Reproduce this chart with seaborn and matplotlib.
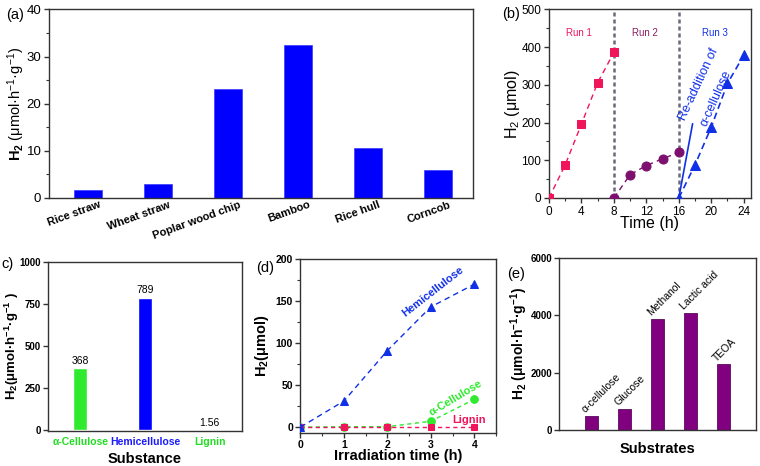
import numpy as np
import pandas as pd
import matplotlib
matplotlib.use("Agg")
import matplotlib.pyplot as plt
import seaborn as sns
from matplotlib.ticker import MultipleLocator

# ---------------- data ----------------
# (a) H2 evolution from raw biomass
biomass = ["Rice straw", "Wheat straw", "Poplar wood chip", "Bamboo", "Rice hull", "Corncob"]
biomass_h2 = [1.8, 2.9, 23.1, 32.4, 10.7, 6.0]

# (b) cycling runs
run1_t = [0, 2, 4, 6, 8]
run1_h2 = [0, 88, 196, 306, 386]
run2_t = [8, 10, 12, 14, 16]
run2_h2 = [0, 62, 86, 104, 121]
run3_t = [16, 18, 20, 22, 24]
run3_h2 = [0, 88, 188, 304, 378]
run_bounds = [8, 16]
readd_x = [16, 17.7]
readd_y = [0, 197]

# (c) components
substances = ["α-Cellulose", "Hemicellulose", "Lignin"]
substance_h2 = [368, 789, 1.56]
substance_labels = ["368", "789", "1.56"]

# (d) time course of components
irr_t = [0, 1, 2, 3, 4]
hemi_h2 = [0, 31, 91, 143, 170]
cell_h2 = [0, 0.5, 0.5, 7, 33]
lignin_h2 = [0, 0, 0, 0, 0]

# (e) substrates
substrates = ["α-cellulose", "Glucose", "Methanol", "Lactic acid", "TEOA"]
substrate_h2 = [490, 730, 3870, 4080, 2290]

# ---------------- style ----------------
sns.set_theme(style="ticks")
plt.rcParams.update({
    "font.family": ["Liberation Sans", "DejaVu Sans"],
    "mathtext.fontset": "custom",
    "mathtext.rm": "Liberation Sans",
    "mathtext.it": "Liberation Sans:italic",
    "mathtext.bf": "Liberation Sans:bold",
    "axes.edgecolor": "#333333",
    "axes.linewidth": 1.0,
    "xtick.color": "#333333", "ytick.color": "#333333",
    "xtick.labelcolor": "black", "ytick.labelcolor": "black",
    "xtick.direction": "out", "ytick.direction": "out",
    "xtick.major.size": 3.5, "ytick.major.size": 3.5,
    "xtick.minor.size": 2, "ytick.minor.size": 2,
    "xtick.major.width": 1, "ytick.major.width": 1,
    "xtick.minor.width": 0.8, "ytick.minor.width": 0.8,
    "xtick.major.pad": 1.5, "ytick.major.pad": 1.5,
    "text.color": "black", "axes.labelcolor": "black",
})

W, H = 760, 466
fig = plt.figure(figsize=(W / 100, H / 100), dpi=100)


def add_ax(l, r, t, b):
    return fig.add_axes([l / W, 1 - b / H, (r - l) / W, (b - t) / H])


def full_box(ax):
    for s in ax.spines.values():
        s.set_visible(True)


def ylab_pos(ax, px_x, l, r):
    ax.yaxis.label.set_verticalalignment("center")
    ax.yaxis.set_label_coords((px_x - l) / (r - l), 0.5)


def xlab_pos(ax, px_y, t, b):
    ax.xaxis.label.set_verticalalignment("center")
    ax.xaxis.set_label_coords(0.5, (b - px_y) / (b - t))


pink = "#f0145a"
purple_pt = "#7d0f6e"
blue = "#1030e8"
green = "#2fea2f"
green_txt = "#22dd22"

# ---------------- (a) ----------------
la, ra, ta, ba = 49, 473, 9.5, 198
axa = add_ax(la, ra, ta, ba)
dfa = pd.DataFrame({"biomass": biomass, "h2": biomass_h2})
sns.barplot(data=dfa, x="biomass", y="h2", color="#0000ff", width=0.4,
            saturation=1, edgecolor="#3a3aff", linewidth=0.5, ax=axa)
full_box(axa)
axa.set_xlim(-0.56, 5.5)
axa.set_ylim(0, 40)
axa.yaxis.set_major_locator(MultipleLocator(10))
axa.yaxis.set_minor_locator(MultipleLocator(5))
axa.tick_params(axis="x", length=0, labelbottom=False)
axa.tick_params(axis="y", labelsize=9.5, pad=2)
axa.set_xlabel("")
for i, name in enumerate(biomass):
    axa.annotate(name, xy=(i, 0), xycoords=("data", "axes fraction"),
                 xytext=(13, -9), textcoords="offset pixels",
                 rotation=20, rotation_mode="anchor", ha="right", va="baseline",
                 fontsize=8, fontweight="bold")
axa.set_ylabel(r"$\mathbf{H_2}$ (μmol·h$^{-1}$·g$^{-1}$)", fontsize=10.5)
ylab_pos(axa, 16, la, ra)
fig.text(15 / W, 1 - 15 / H, "(a)", fontsize=10.5, ha="center", va="center")

# ---------------- (b) ----------------
lb, rb, tb, bb = 549, 751, 9.5, 198
axb = add_ax(lb, rb, tb, bb)
for xv in run_bounds:
    axb.axvline(xv, color="#6b6b78", lw=1.8, ls=(0, (1.6, 1.2)), zorder=1)
sns.lineplot(x=run1_t, y=run1_h2, ax=axb, color=pink, marker="s", markersize=6,
             markeredgecolor=pink, ls=(0, (4, 3)), lw=1, zorder=3)
sns.lineplot(x=run2_t, y=run2_h2, ax=axb, color=purple_pt, marker="o", markersize=6.5,
             markeredgecolor=purple_pt, ls=(0, (4, 3)), lw=1, zorder=3)
sns.lineplot(x=run3_t, y=run3_h2, ax=axb, color=blue, marker="^", markersize=6.5,
             markeredgecolor=blue, ls=(0, (4, 2.5)), lw=1.2, zorder=3)
sns.lineplot(x=readd_x, y=readd_y, ax=axb, color=blue, lw=1.2, zorder=3)
full_box(axb)
axb.set_xlim(0, 24.9)
axb.set_ylim(0, 500)
axb.xaxis.set_major_locator(MultipleLocator(4))
axb.xaxis.set_minor_locator(MultipleLocator(2))
axb.yaxis.set_major_locator(MultipleLocator(100))
axb.yaxis.set_minor_locator(MultipleLocator(50))
axb.tick_params(labelsize=8.5, pad=2)
axb.set_xlabel("Time (h)", fontsize=11.5)
axb.set_ylabel(r"H$_2$ (μmol)", fontsize=11.5)
ylab_pos(axb, 513, lb, rb)
xlab_pos(axb, 224, tb, bb)
axb.text(3.7, 437, "Run 1", color=pink, fontsize=7, ha="center", va="center")
axb.text(11.8, 437, "Run 2", color="#8a1d60", fontsize=7, ha="center", va="center")
axb.text(20.4, 437, "Run 3", color=blue, fontsize=7, ha="center", va="center")
axb.text(18.5, 302, "Re-addition of", color=blue, fontsize=9, rotation=65,
         ha="center", va="center", rotation_mode="anchor")
axb.text(20.6, 265, "α-cellulose", color=blue, fontsize=9, rotation=66,
         ha="center", va="center", rotation_mode="anchor")
fig.text(511 / W, 1 - 14 / H, "(b)", fontsize=10.5, ha="center", va="center")

# ---------------- (c) ----------------
lc, rc, tc, bc = 48, 242, 262, 431
axc = add_ax(lc, rc, tc, bc)
dfc = pd.DataFrame({"substance": substances, "h2": substance_h2})
sns.barplot(data=dfc, x="substance", y="h2", hue="substance",
            palette=[green, "#0000ff", green], width=0.22, saturation=1,
            legend=False, ax=axc)
full_box(axc)
axc.set_xlim(-0.5, 2.5)
axc.set_ylim(-4, 1000)
axc.set_yticks([0, 250, 500, 750, 1000])
axc.tick_params(axis="x", length=0, labelsize=7.5, pad=4)
axc.tick_params(axis="y", labelsize=7)
for lab in axc.get_yticklabels():
    lab.set_fontweight("bold")
for lab, col in zip(axc.get_xticklabels(), [green_txt, "#1a1aff", green_txt]):
    lab.set_fontweight("bold")
    lab.set_color(col)
for i, (v, t) in enumerate(zip(substance_h2, substance_labels)):
    axc.text(i, v + 12, t, ha="center", va="bottom", fontsize=7.5)
axc.set_xlabel("Substance", fontsize=10.5, fontweight="bold")
axc.set_ylabel(r"$\mathbf{H_2}$(μmol·h$^{\mathbf{-1}}$·g$^{\mathbf{-1}}$ )",
               fontsize=9.5, fontweight="bold")
ylab_pos(axc, 12, lc, rc)
xlab_pos(axc, 459, tc, bc)
fig.text(1 / W, 1 - 264 / H, "c)", fontsize=10.5, ha="left", va="center")

# ---------------- (d) ----------------
ld, rd, td, bd = 300, 496, 259, 433
axd = add_ax(ld, rd, td, bd)
sns.lineplot(x=irr_t, y=cell_h2, ax=axd, color=green, marker="o", markersize=5.5,
             markeredgecolor=green, ls=(0, (3, 2.5)), lw=1, zorder=3)
sns.lineplot(x=irr_t, y=lignin_h2, ax=axd, color=pink, marker="s", markersize=5,
             markeredgecolor=pink, ls=(0, (3, 2.5)), lw=1, zorder=4)
sns.lineplot(x=irr_t, y=hemi_h2, ax=axd, color=blue, marker="^", markersize=6,
             markeredgecolor=blue, ls=(0, (4, 3)), lw=1, zorder=5)
full_box(axd)
axd.set_xlim(-0.01, 4.5)
axd.set_ylim(-7, 200)
axd.xaxis.set_major_locator(MultipleLocator(1))
axd.xaxis.set_minor_locator(MultipleLocator(0.5))
axd.yaxis.set_major_locator(MultipleLocator(50))
axd.yaxis.set_minor_locator(MultipleLocator(25))
axd.tick_params(labelsize=7.5)
for lab in axd.get_xticklabels() + axd.get_yticklabels():
    lab.set_fontweight("bold")
axd.text(3.04, 161, "Hemicellulose", color=blue, fontsize=8, fontweight="bold",
         rotation=38, ha="center", va="center", rotation_mode="anchor")
axd.text(3.57, 35, "α-Cellulose", color=green, fontsize=8, fontweight="bold",
         rotation=31, ha="center", va="center", rotation_mode="anchor")
axd.text(3.87, 9, "Lignin", color=pink, fontsize=8, fontweight="bold",
         ha="center", va="center")
axd.set_xlabel("Irradiation time (h)", fontsize=10.5, fontweight="bold")
axd.set_ylabel(r"$\mathbf{H_2}$(μmol)", fontsize=10.5, fontweight="bold")
ylab_pos(axd, 262, ld, rd)
xlab_pos(axd, 456, td, bd)
fig.text(265 / W, 1 - 268 / H, "(d)", fontsize=10.5, ha="center", va="center")

# ---------------- (e) ----------------
le, re, te, be = 559, 756, 258, 430
axe = add_ax(le, re, te, be)
dfe = pd.DataFrame({"substrate": substrates, "h2": substrate_h2})
sns.barplot(data=dfe, x="substrate", y="h2", color="#800080", width=0.4,
            saturation=1, edgecolor="#5a0a5a", linewidth=0.6, ax=axe)
full_box(axe)
axe.set_xlim(-1, 5)
axe.set_ylim(0, 6000)
axe.set_yticks([0, 2000, 4000, 6000])
axe.tick_params(axis="x", length=0, labelbottom=False)
axe.tick_params(axis="y", labelsize=7)
for lab in axe.get_yticklabels():
    lab.set_fontweight("bold")
for i, (name, v) in enumerate(zip(substrates, substrate_h2)):
    axe.text(i - 0.2, v + 90, name, rotation=45, rotation_mode="anchor",
             ha="left", va="baseline", fontsize=7.5)
axe.set_xlabel("Substrates", fontsize=10.5, fontweight="bold")
axe.set_ylabel(r"$\mathbf{H_2}$ (μmol·h$^{\mathbf{-1}}$·g$^{\mathbf{-1}}$)",
               fontsize=10, fontweight="bold")
ylab_pos(axe, 519, le, re)
xlab_pos(axe, 449, te, be)
fig.text(516 / W, 1 - 274 / H, "(e)", fontsize=10.5, ha="center", va="center")

fig.savefig("out.png", dpi=100)
